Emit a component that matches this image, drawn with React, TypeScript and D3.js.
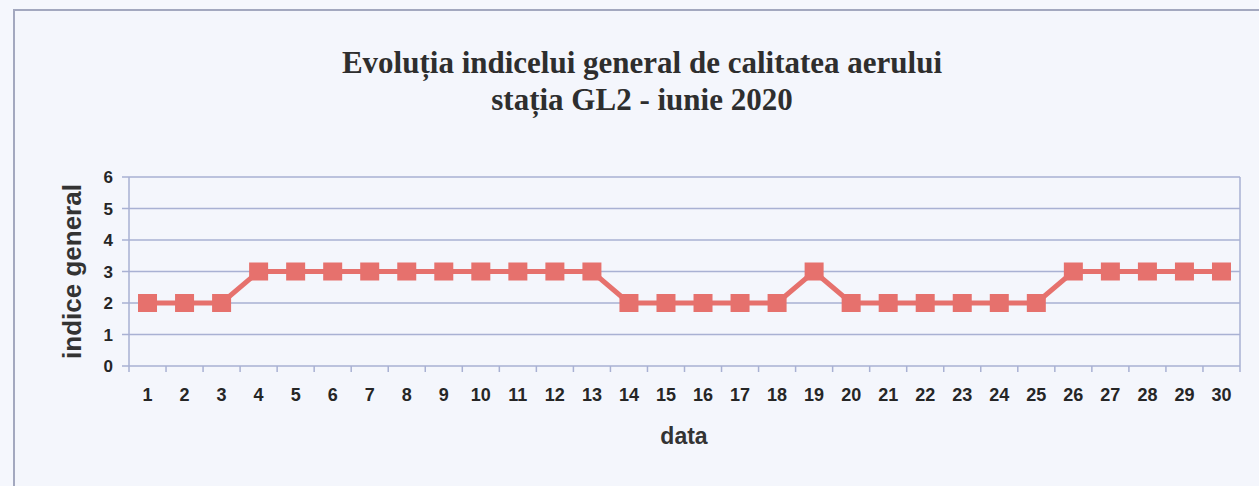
import { useEffect, useRef } from "react";
import * as d3 from "d3";

// zilele lunii iunie 2020
const days = d3.range(1, 31).map((d) => String(d));
// indicele general
const indexValues = [
  2, 2, 2, 3, 3, 3, 3, 3, 3, 3, 3, 3, 3, 2, 2, 2, 2, 2, 3, 2, 2, 2, 2, 2, 2,
  3, 3, 3, 3, 3,
];
const yTicks = [0, 1, 2, 3, 4, 5, 6];
const titleLines = [
  "Evoluția indicelui general de calitatea aerului",
  "stația GL2 - iunie 2020",
];

export default function App() {
  let ref = useRef<SVGSVGElement>(null);

  useEffect(() => {
    const pWidth = 1259;
    const pHeight = 486;
    const margin = { top: 177, right: 19, bottom: 120, left: 129 };
    const width = pWidth - margin.left - margin.right;
    const height = pHeight - margin.top - margin.bottom;

    const svg = d3.select(ref.current);
    svg.selectAll("*").remove();

    // fundal si chenar
    svg
      .append("rect")
      .attr("width", pWidth)
      .attr("height", pHeight)
      .attr("fill", "#f5f7fd");
    svg
      .append("rect")
      .attr("x", 14)
      .attr("y", 10)
      .attr("width", pWidth + 20)
      .attr("height", pHeight + 20)
      .attr("fill", "#f4f6fc")
      .attr("stroke", "#a3a8bf")
      .attr("stroke-width", 2);

    // titlu
    svg
      .selectAll("text.title")
      .data(titleLines)
      .enter()
      .append("text")
      .attr("class", "title")
      .attr("x", 642)
      .attr("y", (d, i) => 73 + i * 37)
      .attr("text-anchor", "middle")
      .style("font-family", "'Liberation Serif', 'Times New Roman', serif")
      .style("font-weight", "bold")
      .style("font-size", "31px")
      .style("fill", "#2e2e2e")
      .text((d) => d);

    const g = svg
      .append("g")
      .attr("transform", `translate(${margin.left},${margin.top})`);

    const x = d3.scaleBand().domain(days).range([0, width]);
    const y = d3.scaleLinear().domain([0, 6]).range([height, 0]);

    // gridlines
    g.selectAll("line.grid")
      .data(yTicks)
      .enter()
      .append("line")
      .attr("class", "grid")
      .attr("x1", -7)
      .attr("x2", width)
      .attr("y1", (d) => y(d))
      .attr("y2", (d) => y(d))
      .attr("stroke", "#a9b1d3")
      .attr("stroke-width", 1.5);

    // axa y si marginea din dreapta
    g.append("line")
      .attr("x1", 0)
      .attr("x2", 0)
      .attr("y1", 0)
      .attr("y2", height)
      .attr("stroke", "#a9b1d3")
      .attr("stroke-width", 1.5);
    g.append("line")
      .attr("x1", width)
      .attr("x2", width)
      .attr("y1", 0)
      .attr("y2", height)
      .attr("stroke", "#a9b1d3")
      .attr("stroke-width", 1.5);

    // tick-uri x la marginea categoriilor
    const bounds = days.map((d) => x(d)!).concat([width]);
    g.selectAll("line.xtick")
      .data(bounds)
      .enter()
      .append("line")
      .attr("class", "xtick")
      .attr("x1", (d) => d)
      .attr("x2", (d) => d)
      .attr("y1", height)
      .attr("y2", height + 6)
      .attr("stroke", "#a9b1d3")
      .attr("stroke-width", 1.5);

    const labelFont = "'Liberation Sans', Arial, sans-serif";

    g.selectAll("text.ylab")
      .data(yTicks)
      .enter()
      .append("text")
      .attr("class", "ylab")
      .attr("x", -16)
      .attr("y", (d) => y(d))
      .attr("dy", "0.36em")
      .attr("text-anchor", "end")
      .style("font-family", labelFont)
      .style("font-weight", "bold")
      .style("font-size", "17px")
      .style("fill", "#262626")
      .text((d) => d);

    g.selectAll("text.xlab")
      .data(days)
      .enter()
      .append("text")
      .attr("class", "xlab")
      .attr("x", (d) => x(d)! + x.bandwidth() / 2)
      .attr("y", height + 29)
      .attr("dy", "0.36em")
      .attr("text-anchor", "middle")
      .style("font-family", labelFont)
      .style("font-weight", "bold")
      .style("font-size", "18px")
      .style("fill", "#262626")
      .text((d) => d);

    // titluri axe
    g.append("text")
      .attr("x", 555)
      .attr("y", height + 70)
      .attr("dy", "0.36em")
      .attr("text-anchor", "middle")
      .style("font-family", labelFont)
      .style("font-weight", "bold")
      .style("font-size", "23px")
      .style("fill", "#333")
      .text("data");

    g.append("text")
      .attr("transform", `translate(-57,${height / 2}) rotate(-90)`)
      .attr("dy", "0.36em")
      .attr("text-anchor", "middle")
      .style("font-family", labelFont)
      .style("font-weight", "bold")
      .style("font-size", "26px")
      .style("fill", "#333")
      .text("indice general");

    // linia seriei
    const line = d3
      .line<number>()
      .x((d, i) => x(days[i])! + x.bandwidth() / 2)
      .y((d) => y(d));

    g.append("path")
      .datum(indexValues)
      .attr("d", line)
      .attr("fill", "none")
      .attr("stroke", "#e6716d")
      .attr("stroke-width", 5);

    g.selectAll("rect.marker")
      .data(indexValues)
      .enter()
      .append("rect")
      .attr("class", "marker")
      .attr("x", (d, i) => x(days[i])! + x.bandwidth() / 2 - 9.5)
      .attr("y", (d) => y(d) - 9)
      .attr("width", 19)
      .attr("height", 18)
      .attr("fill", "#e6716d");
  }, []);

  return (
    <svg
      ref={ref}
      width={1259}
      height={486}
      style={{ position: "absolute", left: 0, top: 0, display: "block" }}
    />
  );
}
